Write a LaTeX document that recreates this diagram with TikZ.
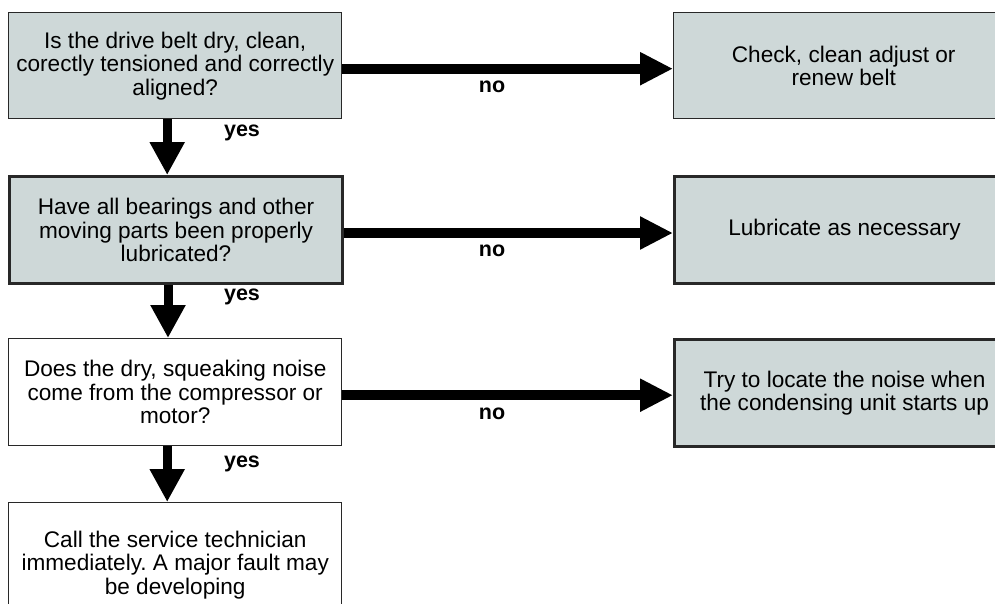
\documentclass[tikz,border=0pt]{standalone}
\usepackage{fontspec}
\setmainfont{Liberation Sans}
\usetikzlibrary{arrows.meta}
\definecolor{boxfill}{RGB}{206,216,216}
\definecolor{boxline}{RGB}{40,40,40}
\frenchspacing
\begin{document}
\begin{tikzpicture}[x=1pt,y=-1pt,
  box/.style={draw=boxline, line width=1.4pt, anchor=north west, align=center,
    inner sep=0pt, font=\fontsize{22.6}{23.5}\selectfont},
  grey/.style={fill=boxfill},
  thick box/.style={line width=3pt},
  varrow/.style={line width=9pt, -{Triangle[length=33pt,width=33pt]}},
  harrow/.style={line width=10pt, -{Triangle[length=33pt,width=31pt]}},
  lab/.style={font=\fontsize{21.5}{21.5}\selectfont\bfseries}
]
\useasboundingbox (0,0) rectangle (995,603);
\fill[white] (0,0) rectangle (995,603);
% left column
\node[box, grey, minimum width=333pt, minimum height=106pt] (q1) at (8,12)
  {Is the drive belt dry, clean,\\corectly tensioned and correctly\\aligned?};
\node[box, grey, thick box, minimum width=333pt, minimum height=107pt] (q2) at (8,175)
  {Have all bearings and other\\moving parts been properly\\lubricated?};
\node[box, minimum width=333pt, minimum height=107pt] (q3) at (8,338)
  {Does the dry, squeaking noise\\come from the compressor or\\motor?};
\node[box, minimum width=333pt, minimum height=124pt] (q4) at (8,502)
  {Call the service technician\\immediately. A major fault may\\be developing};
% right column
\node[box, grey, minimum width=340pt, minimum height=106pt] (a1) at (673,12)
  {Check, clean adjust or\\renew belt};
\node[box, grey, thick box, minimum width=340pt, minimum height=107pt] (a2) at (673,175)
  {Lubricate as necessary};
\node[box, grey, thick box, minimum width=340pt, minimum height=107pt] (a3) at (673,338)
  {Try to locate the noise when\\the condensing unit starts up};
% arrows
\draw[varrow] ([xshift=-8pt]q1.south) -- ([xshift=-8pt]q1.south |- q2.north);
\draw[varrow] ([xshift=-8pt]q2.south) -- ([xshift=-8pt]q2.south |- q3.north);
\draw[varrow] ([xshift=-8pt]q3.south) -- ([xshift=-8pt]q3.south |- q4.north);
\draw[harrow] ([yshift=-3pt]q1.east) -- ([yshift=-3pt]q1.east -| a1.west);
\draw[harrow] ([yshift=-3pt]q2.east) -- ([yshift=-3pt]q2.east -| a2.west);
\draw[harrow] ([yshift=-3pt]q3.east) -- ([yshift=-3pt]q3.east -| a3.west);
% labels
\node[lab] (y1) at (242,133) {yes};
\node[lab] (y2) at (242,297) {yes};
\node[lab] (y3) at (242,464) {yes};
\node[lab] (n1) at (492,87) {no};
\node[lab] (n2) at (492,251) {no};
\node[lab] (n3) at (492,414) {no};
\end{tikzpicture}
\end{document}
